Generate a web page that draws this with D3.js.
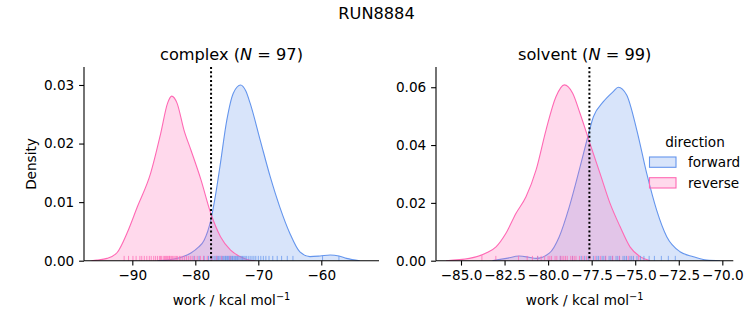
<!DOCTYPE html>
<html><head><meta charset="utf-8">
<script src="https://cdn.jsdelivr.net/npm/d3@7"></script>
<style>body{margin:0;background:#fff}text{font-family:"DejaVu Sans",sans-serif;fill:#000}</style>
</head><body><svg id="c" width="753" height="325"></svg>
<script>
// ---- data ----
const directions = ["forward", "reverse"];
const colors = ["#6495ED", "#FF69B4"];
const panels = ["complex", "solvent"];
const panelN = [97, 99];
const vlines = [-77.5, -77.63];

// complex KDE curves: [work, density]
const complexForwardX = [-86,-84.4,-82.5,-80.7,-79.5,-78.6,-77.55,-76.9,-76.1,-75.0,-73.97,-72.8,-72.0,-71.3,-69.7,-68.1,-66.6,-65.0,-63.4,-61.8,-60.2,-58.6,-57.2,-56.0,-53.9];
const complexForwardY = [0,0.0001,0.0005,0.0013,0.0023,0.0035,0.0069,0.0105,0.016,0.024,0.0286,0.0300,0.0290,0.0269,0.0206,0.0143,0.0092,0.0047,0.0015,0.0007,0.0008,0.00097,0.0008,0.0004,0];
const complexReverseX = [-96.5,-95.6,-94.0,-92.4,-90.8,-89.2,-87.1,-85.5,-84.4,-83.75,-82.9,-81.8,-80.7,-79.1,-77.55,-76.0,-74.4,-72.9,-71.8,-70.5];
const complexReverseY = [0,0.0001,0.0004,0.0014,0.0048,0.0092,0.0149,0.0217,0.0269,0.0281,0.0269,0.0223,0.0189,0.0138,0.0081,0.0041,0.0018,0.0007,0.0002,0];
// solvent KDE curves
const solventForwardX = [-83.2,-82.4,-81.65,-81.1,-80.69,-79.93,-79.36,-78.78,-78.21,-77.82,-77.4,-76.83,-76.26,-75.97,-75.49,-74.91,-74.34,-73.77,-73.19,-72.43,-71.66,-70.9,-70.13];
const solventForwardY = [0,0.0008,0.0016,0.0012,0.0008,0.0026,0.0083,0.0187,0.0314,0.0406,0.0498,0.055,0.0585,0.0600,0.0573,0.0452,0.0302,0.0175,0.0083,0.0031,0.0014,0.0002,0];
const solventReverseX = [-85.86,-84.52,-83.5,-82.99,-82.42,-81.84,-81.27,-80.69,-80.12,-79.55,-79.07,-78.59,-78.17,-77.6,-77.02,-76.45,-75.87,-75.3,-74.72,-74.15];
const solventReverseY = [0,0.0008,0.0028,0.0048,0.0095,0.0164,0.0221,0.0314,0.0452,0.0567,0.0608,0.0579,0.051,0.0406,0.0302,0.0199,0.0118,0.0048,0.0014,0];

// rug (individual work values)
const complexForwardRug = [-80.2,-79.4,-78.6,-77.9,-77.5,-77.2,-76.9,-76.7,-76.5,-76.3,-76.1,-75.9,-75.7,-75.5,-75.3,-75.2,-75.0,-74.9,-74.7,-74.6,-74.4,-74.3,-74.1,-74.0,-73.8,-73.6,-73.5,-73.3,-73.1,-72.9,-72.7,-72.5,-72.3,-72.1,-71.9,-71.6,-71.3,-71.0,-70.7,-70.4,-70.0,-69.6,-69.2,-68.8,-68.3,-67.7,-67.0,-66.3,-65.4,-64.5,-59.8,-57.2];
const complexReverseRug = [-91.3,-90.6,-89.9,-89.4,-88.8,-88.5,-88.1,-87.7,-87.3,-87.0,-86.6,-86.3,-86.0,-85.7,-85.5,-85.4,-85.1,-84.9,-84.7,-84.6,-84.4,-84.2,-84.1,-84.0,-83.8,-83.6,-83.4,-83.2,-83.0,-82.8,-82.5,-82.3,-82.0,-81.7,-81.4,-81.1,-80.8,-80.5,-80.1,-79.7,-79.2,-78.7,-78.1,-77.4,-76.6,-75.8,-74.5];
const solventForwardRug = [-80.6,-79.3,-78.6,-78.1,-77.9,-77.7,-77.4,-77.2,-77.1,-76.9,-76.8,-76.7,-76.5,-76.4,-76.3,-76.1,-76.0,-75.9,-75.7,-75.6,-75.5,-75.3,-75.2,-75.1,-74.9,-74.7,-74.5,-74.2,-73.9,-73.5,-73.1,-72.7];
const solventReverseRug = [-83.8,-83.0,-81.7,-81.2,-80.9,-80.6,-80.4,-80.2,-80.0,-79.9,-79.8,-79.6,-79.5,-79.3,-79.2,-79.1,-79.0,-78.9,-78.7,-78.6,-78.5,-78.4,-78.2,-78.0,-77.8,-77.6,-77.3,-77.0,-76.7,-76.3,-75.9,-75.4,-74.8];

const complexXTicks = [-90,-80,-70,-60];
const complexYTicks = [0,0.01,0.02,0.03];
const solventXTicks = [-85,-82.5,-80,-77.5,-75,-72.5,-70];
const solventYTicks = [0,0.02,0.04,0.06];

// ---- layout ----
const svg = d3.select("#c");
const yTop = 67, yBot = 260.7;
const FS = 13.6, TFS = 16.2;
const cfg = [
  {x0:84, x1:379, xd:[-97.67,-50.84], yd:[0,0.03307], xt:complexXTicks, yt:complexYTicks, xfmt:d3.format(".0f"),
   curves:[[complexForwardX,complexForwardY],[complexReverseX,complexReverseY]], rugs:[complexForwardRug,complexReverseRug]},
  {x0:436, x1:733.3, xd:[-86.435,-69.37], yd:[0,0.067], xt:solventXTicks, yt:solventYTicks, xfmt:d3.format(".1f"),
   curves:[[solventForwardX,solventForwardY],[solventReverseX,solventReverseY]], rugs:[solventForwardRug,solventReverseRug]}
];
const minus = s => s.replace("-", "\u2212");

svg.append("text").attr("x",376.5).attr("y",18.5).attr("text-anchor","middle").style("font-size",TFS+"px").text("RUN8884");

cfg.forEach((p, i) => {
  const x = d3.scaleLinear().domain(p.xd).range([p.x0, p.x1]);
  const y = d3.scaleLinear().domain(p.yd).range([yBot, yTop]);
  const g = svg.append("g");
  const clipId = "clip" + i;
  svg.append("clipPath").attr("id", clipId).append("rect").attr("x",p.x0).attr("y",yTop).attr("width",p.x1-p.x0).attr("height",yBot-yTop);
  const plot = g.append("g").attr("clip-path", `url(#${clipId})`);

  p.curves.forEach((c, k) => {
    const pts = c[0].map((v, j) => [v, c[1][j]]);
    const area = d3.area().x(d => x(d[0])).y0(y(0)).y1(d => y(d[1])).curve(d3.curveMonotoneX);
    const line = d3.line().x(d => x(d[0])).y(d => y(d[1])).curve(d3.curveMonotoneX);
    plot.append("path").attr("d", area(pts)).attr("fill", colors[k]).attr("fill-opacity", 0.25);
    plot.append("path").attr("d", line(pts)).attr("fill","none").attr("stroke", colors[k]).attr("stroke-width", 1.1);
  });
  p.rugs.forEach((r, k) => {
    plot.selectAll(null).data(r).enter().append("line")
      .attr("x1", d => x(d)).attr("x2", d => x(d)).attr("y1", yBot).attr("y2", yBot - 4.8)
      .attr("stroke", colors[k]).attr("stroke-opacity", 0.75).attr("stroke-width", 1);
  });
  g.append("line").attr("x1", x(vlines[i])).attr("x2", x(vlines[i])).attr("y1", yTop).attr("y2", yBot)
    .attr("stroke","#000").attr("stroke-width",2).attr("stroke-dasharray","2,2.3");

  const xa = g.append("g").attr("transform",`translate(0,${yBot})`)
    .call(d3.axisBottom(x).tickValues(p.xt).tickSize(4.9).tickPadding(4.9).tickFormat(d => minus(p.xfmt(d))));
  const ya = g.append("g").attr("transform",`translate(${p.x0},0)`)
    .call(d3.axisLeft(y).tickValues(p.yt).tickSize(4.9).tickPadding(4.9).tickFormat(d3.format(".2f")));
  [xa, ya].forEach(a => {
    a.select(".domain").remove();
    a.selectAll(".tick line").attr("stroke","#000").attr("stroke-width",1.1);
    a.selectAll(".tick text").style("font-size",FS+"px").attr("fill","#000").style("font-family","DejaVu Sans");
  });
  g.append("line").attr("x1",p.x0).attr("x2",p.x1).attr("y1",yBot).attr("y2",yBot).attr("stroke","#000").attr("stroke-width",1.1);
  g.append("line").attr("x1",p.x0).attr("x2",p.x0).attr("y1",yTop).attr("y2",yBot).attr("stroke","#000").attr("stroke-width",1.1);

  const cx = (p.x0 + p.x1) / 2;
  const t = g.append("text").attr("x",cx).attr("y",60).attr("text-anchor","middle").style("font-size",TFS+"px");
  t.append("tspan").text(panels[i] + " (");
  t.append("tspan").style("font-style","italic").text("N");
  t.append("tspan").text(" = " + panelN[i] + ")");

  const xl = g.append("text").attr("x",cx).attr("y",305).attr("text-anchor","middle").style("font-size",FS+"px");
  xl.append("tspan").text("work / kcal mol");
  xl.append("tspan").attr("dy",-5.5).style("font-size","9.8px").text("\u22121");
});

svg.append("text").attr("transform","translate(35.5,164) rotate(-90)").attr("text-anchor","middle").style("font-size",FS+"px").text("Density");

// legend
const lg = svg.append("g");
lg.append("text").attr("x",695).attr("y",146.5).attr("text-anchor","middle").style("font-size",FS+"px").text("direction");
directions.forEach((d, k) => {
  const yy = 157 + k * 20.7;
  lg.append("rect").attr("x",649.5).attr("y",yy).attr("width",26.5).attr("height",10.3)
    .attr("fill",colors[k]).attr("fill-opacity",0.25).attr("stroke",colors[k]).attr("stroke-width",1.1);
  lg.append("text").attr("x",688).attr("y",yy+10).style("font-size",FS+"px").text(d);
});
</script></body></html>
